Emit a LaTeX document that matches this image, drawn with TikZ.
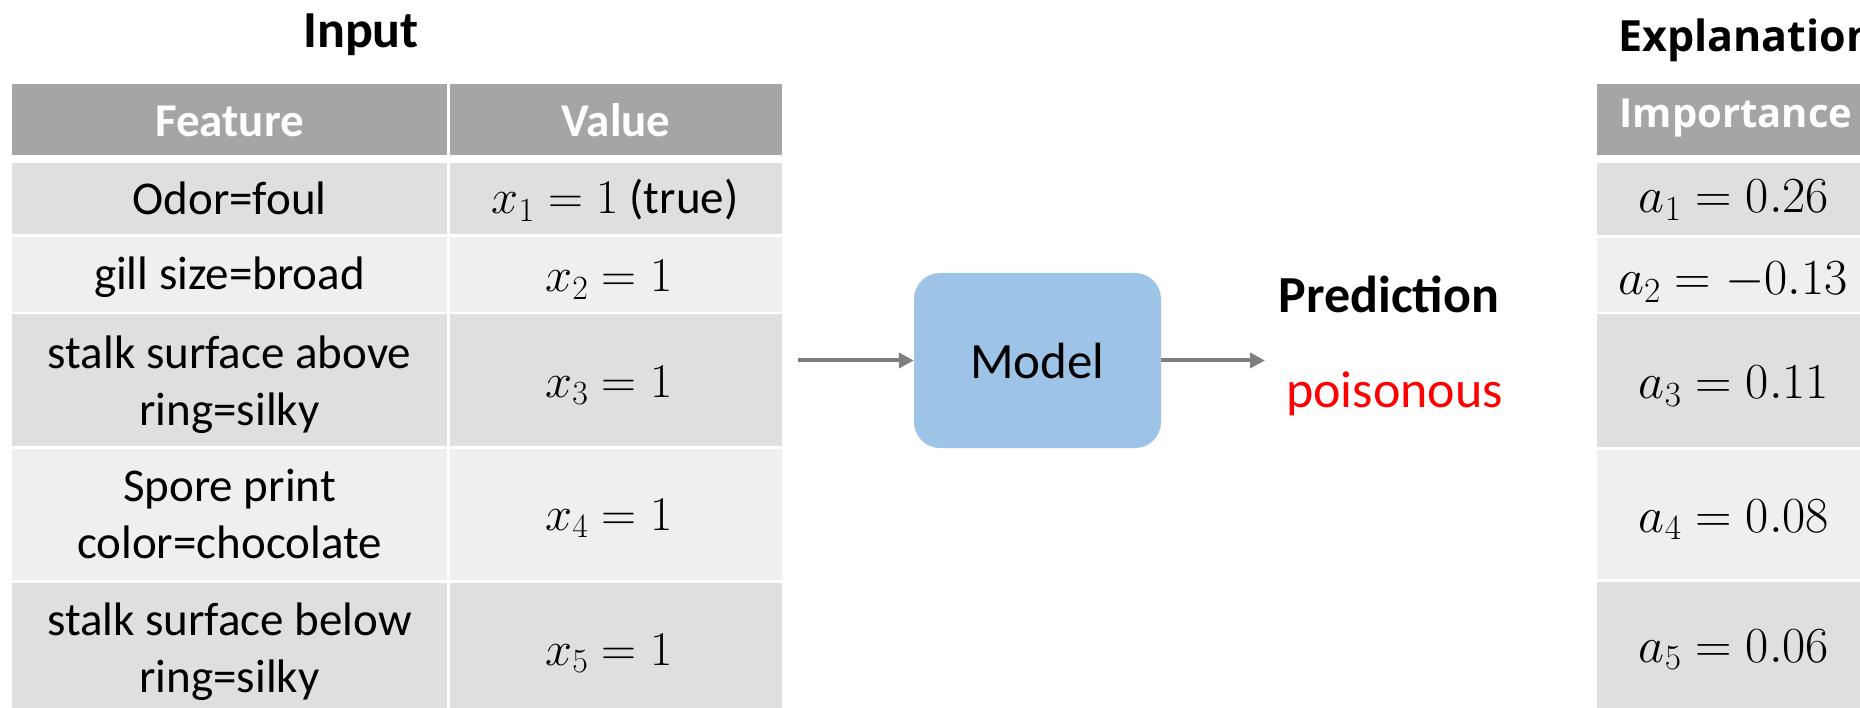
\RequirePackage{fix-cm}
\documentclass[tikz,border=0pt]{standalone}
\usepackage[no-math]{fontspec}
\setmainfont{Carlito}
\newfontfamily\headfont{Open Sans}
\usetikzlibrary{arrows.meta}

\definecolor{hdrgray}{HTML}{A5A5A5}
\definecolor{banddark}{HTML}{DFDFDF}
\definecolor{bandlight}{HTML}{EFEFEF}
\definecolor{modelblue}{HTML}{9DC3E6}
\definecolor{arrowgray}{HTML}{7F7F7F}

% two centred lines whose baseline is the one of the lower line
\newcommand{\twoline}[2]{\begin{tabular}[b]{@{}c@{}}#1\\#2\end{tabular}}

\tikzset{
  hdrcell/.style={fill=hdrgray},
  darkcell/.style={fill=banddark},
  lightcell/.style={fill=bandlight},
  txt/.style={inner sep=0pt, anchor=base, font=\fontsize{47}{56.5}\selectfont},
  mathL/.style={inner sep=0pt, anchor=base, font=\fontsize{48.5}{58}\selectfont},
  hdr/.style={inner sep=0pt, anchor=base, text=white, font=\fontsize{47}{56.5}\selectfont\bfseries},
  title/.style={inner sep=0pt, anchor=base, font=\fontsize{52}{62}\selectfont\bfseries},
  mathR/.style={inner sep=0pt, anchor=base, font=\fontsize{50.5}{60}\selectfont},
  model/.style={fill=modelblue, rounded corners=26pt, minimum width=247pt,
                minimum height=175pt, inner sep=0pt, font=\fontsize{51}{61}\selectfont},
  flow/.style={draw=arrowgray, line width=4pt, -{Triangle[length=15pt,width=15pt]}},
}

\begin{document}
\begin{tikzpicture}[x=1pt,y=-1pt]
\useasboundingbox (0,0) rectangle (1860,708);
\fill[white] (0,0) rectangle (1860,708);
\begin{scope}
\clip (0,0) rectangle (1860,708);

% ---- input table: cells ----
\fill[hdrcell]   (12,84)    rectangle (447,155);
\fill[hdrcell]   (450,84)   rectangle (782,155);
\fill[darkcell]  (12,163)   rectangle (447,234.5);
\fill[darkcell]  (450,163)  rectangle (782,234.5);
\fill[lightcell] (12,237.5) rectangle (447,312);
\fill[lightcell] (450,237.5)rectangle (782,312);
\fill[darkcell]  (12,314.5) rectangle (447,446);
\fill[darkcell]  (450,314.5)rectangle (782,446);
\fill[lightcell] (12,449)   rectangle (447,580);
\fill[lightcell] (450,449)  rectangle (782,580);
\fill[darkcell]  (12,582.5) rectangle (447,712);
\fill[darkcell]  (450,582.5)rectangle (782,712);

% ---- explanation table: cells ----
\fill[hdrcell]   (1597,84)    rectangle (1880,155);
\fill[darkcell]  (1597,163)   rectangle (1880,235);
\fill[lightcell] (1597,238)   rectangle (1880,312);
\fill[darkcell]  (1597,314.5) rectangle (1880,447);
\fill[lightcell] (1597,450)   rectangle (1880,578.5);
\fill[darkcell]  (1597,582)   rectangle (1880,712);

% ---- input table: texts ----
\node[title] (inTitle) at (361,48) {Input};
\node[hdr] (hFeat) at (229.5,137) {Feature};
\node[hdr] (hVal)  at (616,137) {Value};

\node[txt] (f1) at (229.5,215) {Odor=foul};
\node[txt] (f2) at (229.5,290) {gill size=broad};
\node[txt] (f3) at (229.5,425) {\twoline{stalk surface above}{ring=silky}};
\node[txt] (f4) at (229.5,558) {\twoline{Spore print}{color=chocolate}};
\node[txt] (f5) at (229.5,692) {\twoline{stalk surface below}{ring=silky}};

\node[mathL] (v1) at (615,214) {$x_1 = 1$ \fontsize{47}{56.5}\selectfont(true)};
\node[mathL] (v2) at (609,292) {$x_2 = 1$};
\node[mathL] (v3) at (609,397) {$x_3 = 1$};
\node[mathL] (v4) at (609,530) {$x_4 = 1$};
\node[mathL] (v5) at (609,665) {$x_5 = 1$};

% ---- model and prediction ----
\node[model] (model) at (1037.5,360.5) {Model};
\coordinate (feed) at (798,360.5);
\coordinate (out) at (1265,360.5);
\draw[flow] (feed) -- (model.west);
\draw[flow] (model.east) -- (out);

\node[title] (predTitle) at (1389,313) {Prediction};
\node[txt, font=\fontsize{52}{62}\selectfont, text=red] (pred) at (1394.5,407) {poisonous};

% ---- explanation table: texts ----
\node[inner sep=0pt, anchor=base west, font=\headfont\bfseries\fontsize{43}{52}\selectfont]
  (expTitle) at (1618,52) {Explanation};
\node[inner sep=0pt, anchor=base, text=white, font=\headfont\bfseries\fontsize{40}{48}\selectfont]
  (hImp) at (1736,128) {Importance};

\node[mathR] (a1) at (1734,213) {$a_1 = 0.26$};
\node[mathR] (a2) at (1733,295) {$a_2 = -0.13$};
\node[mathR] (a3) at (1734,399) {$a_3 = 0.11$};
\node[mathR] (a4) at (1734,532) {$a_4 = 0.08$};
\node[mathR] (a5) at (1734,662) {$a_5 = 0.06$};
\end{scope}
\end{tikzpicture}
\end{document}
